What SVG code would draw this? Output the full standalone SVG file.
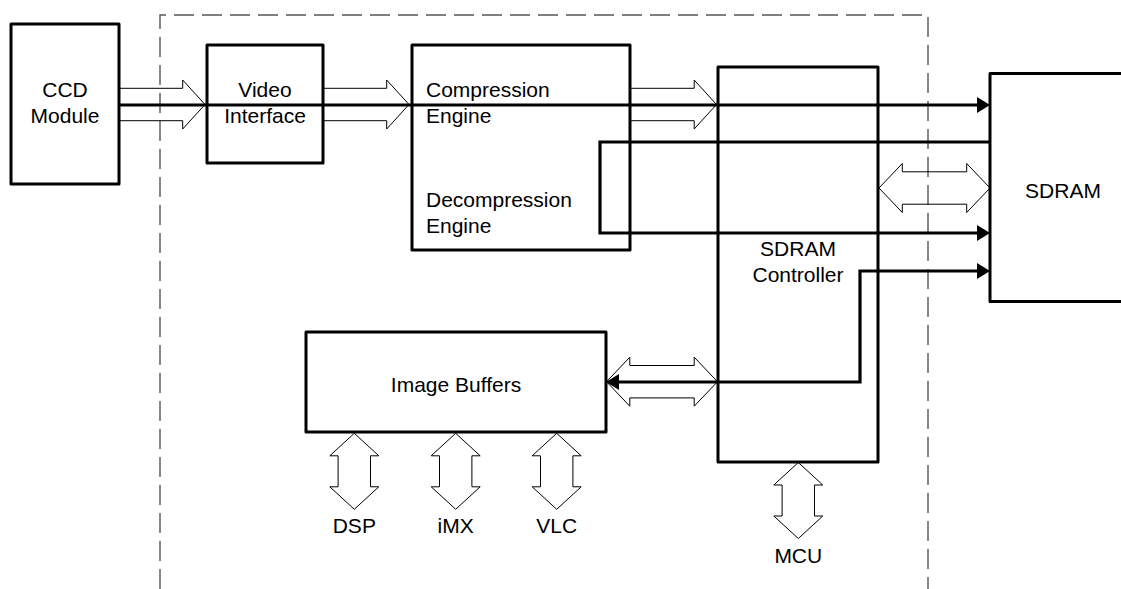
<svg xmlns="http://www.w3.org/2000/svg" xmlns:xlink="http://www.w3.org/1999/xlink" width="1121" height="589" viewBox="0 0 1121 589">
<style>
.box{fill:#fff;stroke:#000;stroke-width:3;stroke-linejoin:round}
.lbl{font-family:"Liberation Sans",Arial,sans-serif;font-size:21px;fill:#000}
.mid{text-anchor:middle}
.hollow{fill:none;stroke:#000;stroke-width:1}
.wire{fill:none;stroke:#000;stroke-width:3.2;stroke-linejoin:miter}
.dash{fill:none;stroke:#555;stroke-width:1.4;stroke-dasharray:20 8}
</style>
<defs>
<marker id="ah" markerUnits="userSpaceOnUse" markerWidth="14" markerHeight="17" refX="0" refY="8" orient="auto-start-reverse" viewBox="0 0 14 17">
<path d="M0,0 L13,8 L0,16 Z" fill="#000"/>
</marker>
<path id="single" d="M0,-16.2 H63.7 V-24.5 L86,0 L63.7,24.5 V16.2 H0"/>
<path id="dblH" d="M0,0 L23.3,-24.5 V-16.2 H87.7 V-24.5 L111,0 L87.7,24.5 V16.2 H23.3 V24.5 Z"/>
<path id="dblV" d="M0,0 L24.5,22.5 H16.2 V53.5 H24.5 L0,76 L-24.5,53.5 H-16.2 V22.5 H-24.5 Z"/>
</defs>

<path class="dash" d="M160,589 V15 H928 V589"/>

<g id="ccd-module">
<rect class="box" x="11" y="24" width="108" height="160"/>
<text class="lbl mid" x="65" y="97">CCD</text>
<text class="lbl mid" x="65" y="122.5">Module</text>
</g>
<g id="video-interface">
<rect class="box" x="207" y="45" width="116" height="118"/>
<text class="lbl mid" x="265" y="97">Video</text>
<text class="lbl mid" x="265" y="122.5">Interface</text>
</g>
<g id="compression-engine">
<rect class="box" x="412" y="45" width="218" height="205"/>
<text class="lbl" x="426" y="97">Compression</text>
<text class="lbl" x="426" y="122.5">Engine</text>
<text class="lbl" x="426" y="207">Decompression</text>
<text class="lbl" x="426" y="232.5">Engine</text>
</g>
<g id="sdram-controller">
<rect class="box" x="718" y="67" width="160" height="395"/>
<text class="lbl mid" x="798" y="256">SDRAM</text>
<text class="lbl mid" x="798" y="281.5">Controller</text>
</g>
<g id="sdram">
<rect class="box" x="990" y="73.5" width="140" height="228"/>
<text class="lbl mid" x="1063" y="197.5">SDRAM</text>
</g>
<g id="image-buffers">
<rect class="box" x="306" y="332" width="300" height="100"/>
<text class="lbl mid" x="456" y="391.5">Image Buffers</text>
</g>
<g id="dsp"><text class="lbl mid" x="354.3" y="533">DSP</text></g>
<g id="imx"><text class="lbl mid" x="455.7" y="533">iMX</text></g>
<g id="vlc"><text class="lbl mid" x="556.7" y="533">VLC</text></g>
<g id="mcu"><text class="lbl mid" x="798.3" y="562.5">MCU</text></g>

<g id="connectors">
<use href="#single" class="hollow" transform="translate(119,104.5)"/>
<use href="#single" class="hollow" transform="translate(323,104.5)"/>
<use href="#single" class="hollow" transform="translate(630.5,104.5)"/>
<use href="#dblH" class="hollow" transform="translate(879,188)"/>
<use href="#dblH" class="hollow" transform="translate(606.5,381.7)"/>
<use href="#dblV" class="hollow" transform="translate(354.3,433.3)"/>
<use href="#dblV" class="hollow" transform="translate(455.7,433.3)"/>
<use href="#dblV" class="hollow" transform="translate(556.7,433.3)"/>
<use href="#dblV" class="hollow" transform="translate(798.3,462.5)"/>
<path class="wire" d="M119,105 H977" marker-end="url(#ah)"/>
<path class="wire" d="M990,142 H600 V233 H977" marker-end="url(#ah)"/>
<path class="wire" d="M619,382 H860 V271 H977" marker-start="url(#ah)" marker-end="url(#ah)"/>
</g>
</svg>
